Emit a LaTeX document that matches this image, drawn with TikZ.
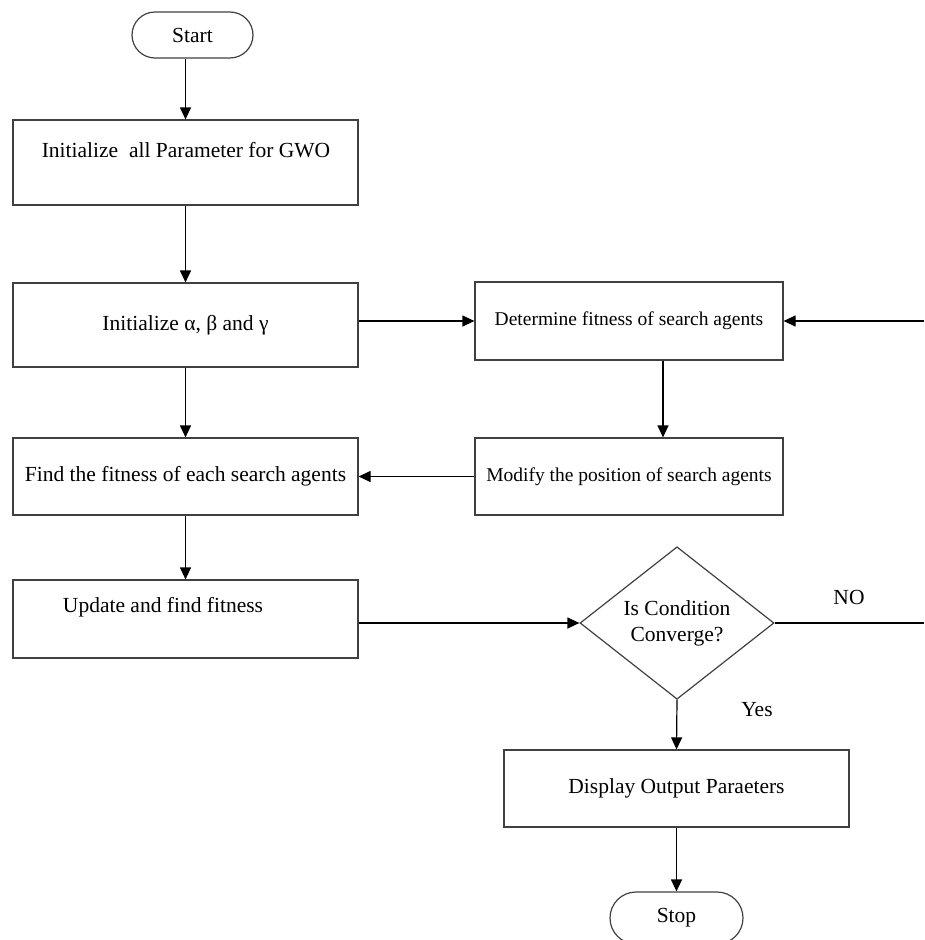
\documentclass[tikz,border=0pt]{standalone}
\usepackage{fontspec}
\setmainfont{Liberation Serif}
\usetikzlibrary{arrows.meta,shapes.geometric,shapes.misc}
\begin{document}
\begin{tikzpicture}[x=1pt,y=-1pt,
  font=\fontsize{21.5}{26}\selectfont,
  edge/.style={draw=black!75,line width=1.2pt},
  box/.style={edge,rectangle,minimum width=345pt,minimum height=80pt,inner sep=0pt},
  rbox/.style={box,minimum width=308pt,font=\fontsize{19.5}{24}\selectfont},
  term/.style={edge,rounded rectangle,inner sep=0pt},
  cond/.style={edge,diamond,inner sep=0pt,minimum width=194pt,minimum height=144pt,align=center},
  arr/.style={line width=1.2pt,-{Triangle[length=12pt,width=11pt]}},
  lnk/.style={line width=1.2pt},
  txt/.style={inner sep=0pt}
]
\useasboundingbox (0,0) rectangle (924,940);
\clip (0,0) rectangle (924,940);

% terminals
\node[term,minimum width=121pt,minimum height=46pt] (start) at (192.5,35) {Start};
\node[term,minimum width=133pt,minimum height=52pt] (stop) at (676.5,918) {Stop};

% left column
\node[box,minimum height=85pt] (b1) at (185.5,162.5) {};
\node[txt] (t1) at (186,150) {Initialize~ all Parameter for GWO};
\node[box,minimum height=84pt] (b2) at (185.5,325) {Initialize α, β and γ};
\node[box,minimum height=77pt] (b3) at (185.5,476.5) {Find the fitness of each search agents};
\node[box,minimum height=78pt] (b4) at (185.5,619) {};
\node[txt] (t4) at (163,607) {Update and find fitness};

% right column
\node[rbox,minimum height=78pt] (det) at (629,321) {Determine fitness of search agents};
\node[rbox,minimum height=77pt] (mod) at (629,476.5) {Modify the position of search agents};
\node[cond] (dia) at (677,623) {Is Condition\\Converge?};
\node[box,minimum height=77pt] (disp) at (676.5,788.5) {Display Output Paraeters};

% loose ends at the right border
\coordinate (rin) at (924,321);
\coordinate (rno) at (924,623);

% labels
\node[txt] (no) at (849,597) {NO};
\node[txt] (yes) at (757,710) {Yes};

% connectors
\draw[arr] (start.south -| b1.north) -- (b1.north);
\draw[arr] (b1) -- (b2);
\draw[arr] (b2) -- (b3);
\draw[arr] (b3) -- (b4);
\draw[arr] (b2.east |- det.west) -- (det.west);
\draw[arr] (rin) -- (det.east);
\draw[arr] ([xshift=34pt]det.south) -- ([xshift=34pt]mod.north);
\draw[arr] (mod.west) -- (b3.east |- mod.west);
\draw[arr] (b4.east |- dia.west) -- (dia.west);
\draw[lnk] (dia.east) -- (rno);
\draw[arr] (dia.south) -- (disp.north);
\draw[arr] (disp.south) -- (stop.north);
\end{tikzpicture}
\end{document}
